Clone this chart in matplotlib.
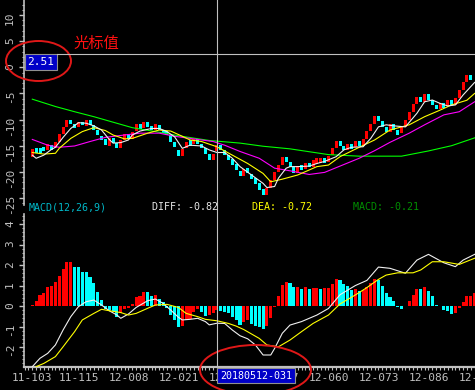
import os

os.environ["MPLBACKEND"] = "Agg"

import matplotlib.pyplot as plt
from matplotlib.patches import Ellipse, Rectangle
from matplotlib.ticker import MultipleLocator

# ===============================
# DATOS
# ===============================

# velas: apertura / cierre por barra
open_ = [
    -17.1, -15.5, -15.4, -15.2, -15.8, -14.9, -15.5, -14.2, -12.8, -11.4,
    -10.0, -10.85, -11.4, -10.4, -11.2, -10.1, -11.0, -11.9, -13.1, -13.8,
    -15.05, -13.6, -14.5, -15.5, -14.0, -12.8, -13.8, -12.1, -10.85, -11.7,
    -10.4, -11.2, -11.9, -11.0, -11.9, -12.1, -12.95, -14.2, -15.8, -16.9,
    -15.5, -14.0, -14.7, -13.8, -14.7, -15.5, -16.6, -17.7, -16.1, -14.9,
    -15.8, -16.8, -17.6, -18.5, -19.8, -20.8, -19.3, -20.4, -21.2, -22.2,
    -23.3, -24.4, -23.0, -21.55, -19.96, -18.7, -17.2, -18.05, -19.0, -20.15,
    -18.7, -19.5, -18.4, -19.0, -18.5, -18.4, -17.3, -18.2, -16.8, -15.4,
    -14.1, -15.05, -15.9, -14.7, -15.3, -14.1, -15.0, -13.7, -12.2, -10.85,
    -9.3, -10.3, -11.4, -12.3, -10.9, -12.0, -12.5, -11.4, -10.1, -8.6,
    -7.1, -5.6, -6.6, -5.1, -6.3, -7.2, -8.0, -6.9, -7.4, -6.3,
    -7.2, -5.8, -4.3, -2.9, -1.5,
]
close_ = [
    -15.7, -16.3, -16.3, -16.1, -14.7, -15.8, -14.2, -12.8, -11.4, -10.0,
    -10.85, -11.7, -10.4, -11.0, -10.1, -11.0, -12.0, -12.95, -14.0, -14.9,
    -13.6, -14.5, -15.5, -14.0, -12.8, -13.7, -12.3, -10.85, -11.8, -10.4,
    -11.4, -12.0, -10.85, -12.0, -12.6, -12.95, -14.2, -15.3, -16.9, -15.6,
    -14.2, -15.05, -13.7, -14.7, -15.5, -16.5, -17.7, -16.5, -14.9, -15.8,
    -16.8, -17.7, -18.7, -19.6, -20.8, -19.5, -20.3, -21.4, -22.3, -23.5,
    -24.4, -23.15, -21.55, -19.96, -18.7, -17.2, -18.1, -19.0, -20.15, -18.9,
    -19.6, -18.4, -19.1, -17.7, -17.4, -17.3, -18.4, -17.0, -15.4, -14.1,
    -15.05, -15.9, -14.7, -15.7, -14.1, -15.05, -13.7, -12.2, -10.85, -9.3,
    -10.3, -11.4, -12.3, -10.9, -12.0, -12.95, -11.4, -10.1, -8.6, -7.1,
    -5.75, -6.7, -5.1, -6.3, -7.2, -8.0, -6.9, -7.7, -6.3, -7.2,
    -5.8, -4.3, -2.9, -1.5, -2.4,
]

# medias móviles (barra, valor)
ma5_idx = [0, 1, 3, 5, 6, 8, 10, 12, 14, 16, 18, 20, 21, 23, 25, 26, 28, 31, 33, 35,
           37, 38, 39, 41, 44, 46, 48, 50, 52, 54, 57, 60, 61, 63, 64, 66, 67, 69, 72, 74,
           76, 79, 81, 83, 86, 88, 90, 92, 94, 97, 100, 102, 104, 106, 108, 110, 112, 115]
ma5_val = [-16.8, -17.4, -16.8, -15.7, -15.3, -13.4, -11.7, -10.6, -10.7, -11.2,
           -12.0, -13.8, -14.5, -14.4, -13.9, -12.95, -12.2, -11.7, -11.7, -12.3,
           -13.3, -14.4, -15.5, -14.9, -15.05, -15.8, -16.3, -16.3, -17.4, -19.0,
           -20.6, -22.2, -23.0, -22.8, -21.2, -19.3, -19.0, -19.0, -18.9, -18.4,
           -18.0, -17.1, -15.8, -15.3, -15.2, -13.6, -11.4, -11.0, -11.2, -11.4,
           -8.8, -6.6, -6.26, -6.9, -7.4, -7.2, -5.3, -2.9]

ma10_idx = [0, 3, 6, 7, 10, 13, 16, 19, 21, 24, 26, 30, 33, 36, 39, 41, 44, 48, 52, 56,
            60, 62, 65, 69, 74, 77, 80, 85, 89, 93, 98, 102, 106, 109, 113, 115]
ma10_val = [-16.3, -16.6, -16.45, -15.5, -13.6, -12.3, -11.55, -12.1, -12.95, -13.7,
            -13.6, -12.6, -12.0, -12.2, -13.2, -13.9, -14.2, -15.2, -16.8, -18.4,
            -20.3, -21.9, -21.4, -20.6, -19.0, -18.7, -17.1, -15.3, -13.9, -12.0,
            -11.0, -9.45, -8.2, -7.2, -6.3, -5.0]

ma20_idx = [0, 4, 7, 11, 15, 19, 24, 28, 33, 37, 42, 47, 50, 54, 59, 63, 67, 72, 76, 80,
            85, 89, 93, 98, 102, 107, 111, 115]
ma20_val = [-13.8, -14.9, -15.3, -15.05, -14.2, -13.4, -12.95, -12.6, -12.6, -13.2,
            -13.7, -14.2, -14.9, -16.1, -17.4, -19.3, -19.8, -20.5, -20.1, -18.9,
            -17.4, -15.95, -14.35, -12.6, -11.0, -9.1, -8.5, -6.6]

ma60_idx = [0, 6, 11, 16, 21, 26, 32, 38, 46, 54, 60, 67, 77, 85, 96, 103, 109, 115]
ma60_val = [-6.1, -7.5, -8.5, -9.45, -10.5, -11.55, -12.3, -13.1, -14.0, -14.5,
            -15.1, -15.6, -16.7, -17.0, -17.0, -16.0, -15.0, -13.5]

# MACD: histograma por barra
macd = [
    0.05, 0.25, 0.54, 0.65, 0.91, 0.98, 1.17, 1.46, 1.80, 2.15,
    2.15, 1.90, 1.89, 1.66, 1.65, 1.41, 1.10, 0.70, 0.29, -0.16,
    -0.19, -0.23, -0.52, -0.33, -0.16, -0.08, 0.08, 0.44, 0.47, 0.70,
    0.68, 0.47, 0.54, 0.34, 0.18, -0.12, -0.44, -0.69, -1.00, -0.98,
    -0.68, -0.62, -0.29, -0.16, -0.28, -0.50, -0.45, -0.32, -0.21, -0.24,
    -0.28, -0.36, -0.52, -0.68, -0.93, -0.76, -0.68, -0.89, -0.98, -1.01,
    -1.14, -0.98, -0.57, -0.03, 0.49, 1.02, 1.17, 1.12, 0.93, 0.94,
    0.83, 0.94, 0.83, 0.86, 0.87, 0.83, 0.86, 0.90, 1.06, 1.30,
    1.27, 1.08, 1.00, 0.80, 0.85, 0.74, 0.80, 0.95, 1.10, 1.32,
    1.27, 0.97, 0.65, 0.46, 0.23, -0.07, -0.13, 0.00, 0.25, 0.54,
    0.83, 0.82, 0.94, 0.75, 0.49, 0.07, 0.02, -0.20, -0.22, -0.39,
    -0.33, -0.08, 0.18, 0.49, 0.50, 0.65,
]

diff_idx = [0, 2, 4, 6, 8, 10, 12, 14, 16, 18, 20, 22, 23, 25, 27, 30, 32, 34, 36, 38,
            39, 41, 43, 45, 46, 48, 50, 52, 54, 56, 58, 60, 62, 63, 65, 67, 70, 74, 77, 80,
            84, 87, 90, 93, 97, 100, 103, 107, 110, 112, 115]
diff_val = [-2.96, -2.55, -2.31, -1.9, -1.17, -0.52, -0.03, 0.21, 0.29, 0.05,
            -0.23, -0.44, -0.6, -0.39, -0.07, 0.26, 0.34, 0.13, -0.2, -0.55,
            -0.68, -0.65, -0.6, -0.76, -0.92, -0.84, -0.85, -1.17, -1.45, -1.6,
            -1.9, -2.39, -2.39, -2.07, -1.33, -0.93, -0.76, -0.44, -0.12, 0.55,
            1.0, 1.25, 1.9, 1.84, 1.6, 2.24, 2.52, 2.11, 1.92, 2.24, 2.52]

dea_idx = [1, 3, 6, 8, 11, 13, 16, 18, 20, 23, 25, 27, 30, 32, 35, 38, 40, 43, 45, 48,
           51, 53, 55, 59, 61, 64, 67, 70, 73, 77, 80, 84, 87, 90, 92, 95, 99, 101, 104, 107,
           111, 115]
dea_val = [-2.96, -2.8, -2.47, -1.99, -1.25, -0.68, -0.36, -0.16, -0.23, -0.32,
           -0.44, -0.36, -0.11, 0.05, 0.08, -0.07, -0.36, -0.52, -0.65, -0.72,
           -0.85, -0.98, -1.15, -1.58, -1.9, -1.99, -1.66, -1.25, -0.85, -0.44,
           0.1, 0.54, 0.9, 1.3, 1.51, 1.62, 1.62, 1.76, 2.16, 2.16,
           2.03, 2.33]

date_labels = ["11-103", "11-115", "12-008", "12-021", "12-034",
               "12-047", "12-060", "12-073", "12-086", "12-099"]
date_pos = [0, 12, 25, 38, 51, 64, 77, 90, 103, 116]

cursor_bar = 48
cursor_value = 2.51
cursor_date = "20180512-031"
cursor_diff = -0.82
cursor_dea = -0.72
cursor_macd = -0.21

# ===============================
# FIGURA
# ===============================

W, H = 475, 390
GRAY = "#c0c0c0"
RED = "#ff0000"
CYAN = "#00ffff"

plt.rcParams["axes.unicode_minus"] = False
plt.rcParams["font.family"] = ["DejaVu Sans Mono"]

fig = plt.figure(figsize=(W / 100, H / 100), dpi=100, facecolor="black")


def box(left, top, right, bottom):
    return [left / W, 1 - bottom / H, (right - left) / W, (bottom - top) / H]


ax1 = fig.add_axes(box(24, 0, W, 205), facecolor="black")
ax2 = fig.add_axes(box(24, 214, W, 367), facecolor="black")

# velas
cols = [RED if c >= o else CYAN for o, c in zip(open_, close_)]
ax1.bar(range(len(open_)), [c - o for o, c in zip(open_, close_)], bottom=open_,
        width=0.78, color=cols, linewidth=0, zorder=2)

ax1.plot(ma60_idx, ma60_val, color="#00ff00", lw=0.8, zorder=3)
ax1.plot(ma20_idx, ma20_val, color="#ff00ff", lw=0.8, zorder=3)
ax1.plot(ma10_idx, ma10_val, color="#ffff00", lw=0.8, zorder=3)
ax1.plot(ma5_idx, ma5_val, color="#f0f0f0", lw=0.8, zorder=3)

# MACD
mcols = [RED if i == 0 or m >= macd[i - 1] else CYAN for i, m in enumerate(macd)]
ax2.bar(range(len(macd)), macd, width=0.8, color=mcols, linewidth=0, zorder=2)
ax2.plot(diff_idx, diff_val, color="#f0f0f0", lw=0.8, zorder=3)
ax2.plot(dea_idx, dea_val, color="#ffff00", lw=0.8, zorder=3)

ax1.set_ylim(-26.34, 12.87)
ax2.set_ylim(-2.976, 4.49)
ax1.set_yticks([10, 5, 0, -5, -10, -15, -20, -25])
ax1.yaxis.set_minor_locator(MultipleLocator(1))
ax2.set_yticks([4, 3, 2, 1, 0, -1, -2])
ax2.yaxis.set_minor_locator(MultipleLocator(0.2))

for ax in (ax1, ax2):
    ax.set_xlim(-2.16, 115.1)
    for s in ax.spines.values():
        s.set_visible(False)
    ax.spines["left"].set_visible(True)
    ax.spines["left"].set_color(GRAY)
    ax.spines["left"].set_linewidth(1.2)
    ax.tick_params(axis="y", which="both", colors=GRAY, direction="out",
                   labelsize=8, labelrotation=90, pad=3)
    ax.tick_params(axis="y", which="major", length=3.5, width=1)
    ax.tick_params(axis="y", which="minor", length=1.8, width=0.8)

ax1.set_xticks([])
ax2.set_xticks([])
ax2.set_xticks(range(-2, 116), minor=True)
ax2.spines["bottom"].set_visible(True)
ax2.spines["bottom"].set_color(GRAY)
ax2.spines["bottom"].set_linewidth(1.6)
ax2.tick_params(axis="x", which="minor", length=2, width=0.8, color=GRAY, direction="out")

for p, lab in zip(date_pos, date_labels):
    ax2.text(p, -0.072, lab, transform=ax2.get_xaxis_transform(), ha="center",
             va="center", color=GRAY, fontsize=8, clip_on=False)

# ===============================
# CURSOR Y ANOTACIONES
# ===============================

ov = fig.add_axes([0, 0, 1, 1])
ov.set_xlim(0, W)
ov.set_ylim(H, 0)
ov.axis("off")
ov.patch.set_alpha(0)

cx, cy_disp = ax1.transData.transform((cursor_bar, cursor_value))
cy = H - cy_disp
bottom_px = H - ax2.transAxes.transform((0, 0))[1]

ov.plot([cx, cx], [0, bottom_px], color=GRAY, lw=0.8)
ov.plot([57, W], [cy, cy], color=GRAY, lw=0.8)

ov.add_patch(Rectangle((25, cy), 32, 16, facecolor="#0000c8", edgecolor="#909090", lw=0.8))
ov.text(41, cy + 8, f"{cursor_value:.2f}", color="white", fontsize=8, ha="center", va="center")

ov.add_patch(Rectangle((cx, 368), 78, 15, facecolor="#0000c8", edgecolor="#909090", lw=0.8))
ov.text(cx + 39, 376, cursor_date, color="white", fontsize=7.2, ha="center", va="center")

ov.add_patch(Ellipse((38.5, 61), 65, 40, fill=False, edgecolor="#e01818", lw=1.4))
ov.add_patch(Ellipse((255.5, 370), 111, 50, fill=False, edgecolor="#e01818", lw=1.4))
ov.text(96, 43, "光标值", color="#ff1010", fontsize=11, ha="center", va="center",
        family=["Noto Sans CJK SC", "DejaVu Sans"])

ov.text(29, 207, "MACD(12,26,9)", color="#00b8c8", fontsize=7.2, va="center")
ov.text(152, 207, f"DIFF: {cursor_diff:.2f}", color="#e8e8e8", fontsize=7.2, va="center")
ov.text(252, 207, f"DEA: {cursor_dea:.2f}", color="#ffff00", fontsize=7.2, va="center")
ov.text(353, 207, f"MACD: {cursor_macd:.2f}", color="#009000", fontsize=7.2, va="center")

fig.savefig("out.png", dpi=100, facecolor="black")
plt.close(fig)
